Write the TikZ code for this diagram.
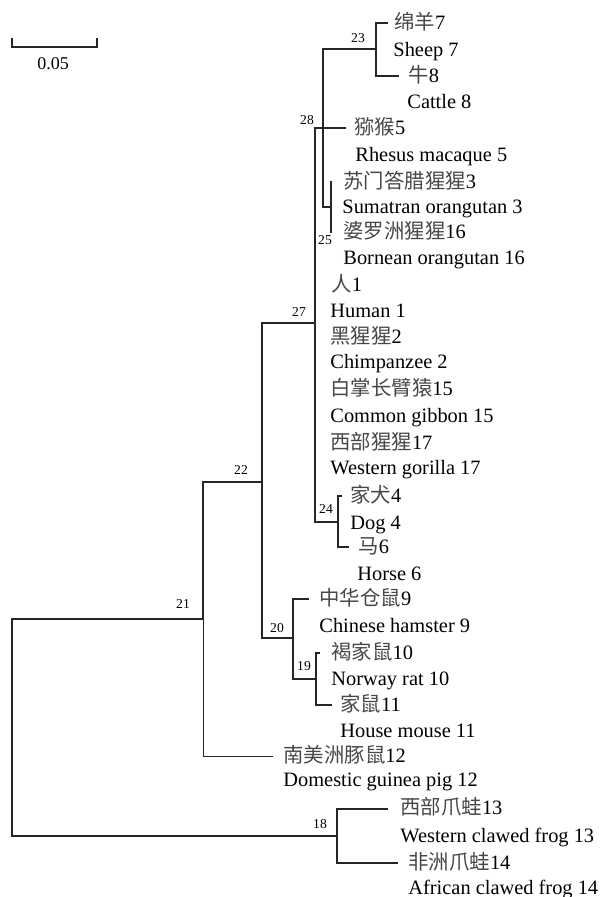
\documentclass[tikz,border=0pt]{standalone}
\usepackage{fontspec}
\setmainfont{Liberation Serif}
\newfontfamily\cjk{Noto Sans CJK SC}
\usetikzlibrary{positioning}
\newcommand{\zh}[1]{{\cjk\color{black!72}#1}}
\tikzset{
  br/.style={line width=0.85pt, draw=black!85, line cap=rect},
  brthin/.style={line width=0.5pt, draw=black!85},
  tipl/.style={anchor=west, inner sep=0pt, font=\fontsize{10.2}{12}\selectfont,
    text height=0.75em, text depth=0.2em},
  nid/.style={font=\fontsize{6.8}{8}\selectfont, inner sep=0pt},
  sclab/.style={font=\fontsize{9}{11}\selectfont, inner sep=0pt},
}
\begin{document}
\begin{tikzpicture}[x=0.5pt, y=-0.5pt]
  \useasboundingbox (0,0) rectangle (603,897);
  % scale bar
  \coordinate (sa) at (12,38);
  \coordinate (sb) at (97,38);
  \draw[br, line cap=butt] (sa) -- ++(0,9) -| (sb);
  \node[sclab] (sl) at (53,64) {0.05};
  % internal nodes
  \coordinate (n0)  at (12,727);
  \coordinate (n21) at (203,619);
  \coordinate (n22) at (262,482);
  \coordinate (n27) at (315,323);
  \coordinate (n28) at (315,128);
  \coordinate (nx)  at (323,128);
  \coordinate (n23) at (376,49);
  \coordinate (n25) at (331,207);
  \coordinate (n24) at (338,522);
  \coordinate (n20) at (293,638);
  \coordinate (n19) at (316,679);
  \coordinate (n18) at (337,836);
  % tip ends
  \coordinate (t7)  at (387,23);
  \coordinate (t8)  at (398,76);
  \coordinate (t5)  at (345,128);
  \coordinate (t3)  at (331,182);
  \coordinate (t16) at (331,232);
  \coordinate (t4)  at (341,496);
  \coordinate (t6)  at (348,547);
  \coordinate (t9)  at (308,599);
  \coordinate (t10) at (319,653);
  \coordinate (t11) at (331,705);
  \coordinate (t12) at (273,756);
  \coordinate (t13) at (387,809);
  \coordinate (t14) at (397,863);
  % branches
  \draw[br] (n0) |- (n21);
  \draw[br] (n0) |- (n18);
  \draw[br] (n21) |- (n22);
  \draw[brthin] (n21) |- (t12);
  \draw[br] (n22) |- (n27);
  \draw[br] (n22) |- (n20);
  \draw[br] (n27) |- (n28);
  \draw[br] (n27) |- (n24);
  \draw[br] (n28) -- (t5);
  \draw[br] (nx) |- (n23);
  \draw[br] (nx) |- (n25);
  \draw[br] (n23) |- (t7);
  \draw[br] (n23) |- (t8);
  \draw[br] (n25) |- (t3);
  \draw[br] (n25) |- (t16);
  \draw[br] (n24) |- (t4);
  \draw[br] (n24) |- (t6);
  \draw[br] (n20) |- (t9);
  \draw[br] (n20) |- (n19);
  \draw[br] (n19) |- (t10);
  \draw[br] (n19) |- (t11);
  \draw[br] (n18) |- (t13);
  \draw[br] (n18) |- (t14);
  % node numbers
  \node[nid] (l23) at (358,38) {23};
  \node[nid] (l28) at (307,120) {28};
  \node[nid] (l25) at (325,240) {25};
  \node[nid] (l27) at (299,312) {27};
  \node[nid] (l24) at (326,509) {24};
  \node[nid] (l22) at (241,470) {22};
  \node[nid] (l21) at (183,604) {21};
  \node[nid] (l20) at (277,628) {20};
  \node[nid] (l19) at (304,666) {19};
  \node[nid] (l18) at (320,824) {18};
  % tip labels
  \node[tipl] (c7)  at (394,24)  {\zh{绵羊}7};
  \node[tipl] (e7)  at (393,51)  {Sheep 7};
  \node[tipl] (c8)  at (408,77)  {\zh{牛}8};
  \node[tipl] (e8)  at (407,103) {Cattle 8};
  \node[tipl] (c5)  at (354,129) {\zh{猕猴}5};
  \node[tipl] (e5)  at (355,156) {Rhesus macaque 5};
  \node[tipl] (c3)  at (343,183) {\zh{苏门答腊猩猩}3};
  \node[tipl] (e3)  at (342,208) {Sumatran orangutan 3};
  \node[tipl] (c16) at (343,233) {\zh{婆罗洲猩猩}16};
  \node[tipl] (e16) at (343,259) {Bornean orangutan 16};
  \node[tipl] (c1)  at (331,286) {\zh{人}1};
  \node[tipl] (e1)  at (330,312) {Human 1};
  \node[tipl] (c2)  at (330,338) {\zh{黑猩猩}2};
  \node[tipl] (e2)  at (330,363) {Chimpanzee 2};
  \node[tipl] (c15) at (330,390) {\zh{白掌长臂猿}15};
  \node[tipl] (e15) at (330,417) {Common gibbon 15};
  \node[tipl] (c17) at (330,444) {\zh{西部猩猩}17};
  \node[tipl] (e17) at (330,469) {Western gorilla 17};
  \node[tipl] (c4)  at (350,497) {\zh{家犬}4};
  \node[tipl] (e4)  at (350,524) {Dog 4};
  \node[tipl] (c6)  at (358,548) {\zh{马}6};
  \node[tipl] (e6)  at (357,575) {Horse 6};
  \node[tipl] (c9)  at (319,600) {\zh{中华仓鼠}9};
  \node[tipl] (e9)  at (319,627) {Chinese hamster 9};
  \node[tipl] (c10) at (331,654) {\zh{褐家鼠}10};
  \node[tipl] (e10) at (331,680) {Norway rat 10};
  \node[tipl] (c11) at (340,706) {\zh{家鼠}11};
  \node[tipl] (e11) at (340,732) {House mouse 11};
  \node[tipl] (c12) at (283,757) {\zh{南美洲豚鼠}12};
  \node[tipl] (e12) at (283,781) {Domestic guinea pig 12};
  \node[tipl] (c13) at (400,809) {\zh{西部爪蛙}13};
  \node[tipl] (e13) at (400,837) {Western clawed frog 13};
  \node[tipl] (c14) at (408,864) {\zh{非洲爪蛙}14};
  \node[tipl] (e14) at (408,889) {African clawed frog 14};
\end{tikzpicture}
\end{document}
